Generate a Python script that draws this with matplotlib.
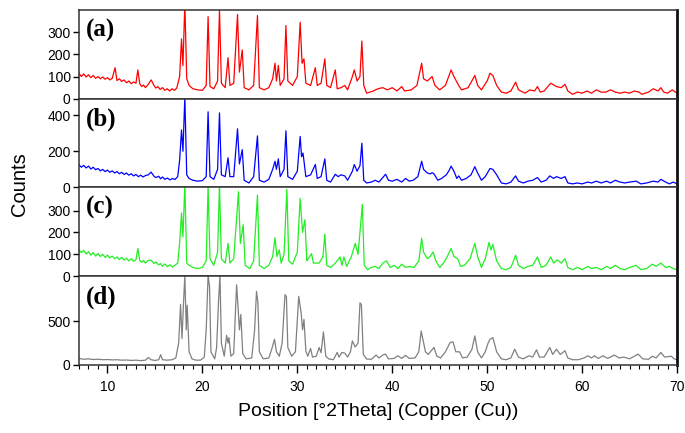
import matplotlib
matplotlib.use('Agg')
import matplotlib.pyplot as plt
from matplotlib.ticker import MultipleLocator

plt.rcParams['font.family'] = ['Liberation Sans', 'DejaVu Sans']

# (a) red trace
theta_a = [7.0, 7.25, 7.5, 7.75, 8.0, 8.25, 8.5, 8.75, 9.0, 9.25, 9.5, 9.75, 10.0, 10.25, 10.5, 10.8,
           11.0, 11.25, 11.5, 11.75, 12.0, 12.25, 12.5, 12.75, 13.0, 13.2, 13.4, 13.6, 13.8, 14.0, 14.3,
           14.6, 14.9, 15.1, 15.3, 15.55, 15.8, 16.05, 16.3, 16.55, 16.8, 17.05, 17.3, 17.6, 17.8, 17.95,
           18.15, 18.35, 18.6, 19.0, 19.5, 20.0, 20.4, 20.6, 20.8, 21.2, 21.6, 21.8, 22.0, 22.4, 22.7,
           22.9, 23.3, 23.7, 23.9, 24.2, 24.4, 24.9, 25.4, 25.8, 26.0, 26.5, 27.0, 27.4, 27.65, 27.8,
           28.0, 28.2, 28.6, 28.8, 29.0, 29.5, 30.0, 30.3, 30.5, 30.7, 30.9, 31.4, 31.9, 32.1, 32.5,
           32.9, 33.1, 33.5, 34.0, 34.2, 34.6, 35.0, 35.3, 35.8, 36.0, 36.3, 36.6, 36.8, 37.0, 37.3,
           38.0, 38.5, 39.0, 39.5, 40.0, 40.5, 41.0, 41.3, 42.0, 42.6, 43.1, 43.3, 43.7, 44.2, 44.5,
           45.0, 45.6, 46.2, 46.5, 47.0, 47.3, 48.0, 48.7, 49.0, 49.4, 50.0, 50.3, 50.6, 51.0, 51.5,
           52.0, 52.5, 53.0, 53.3, 54.0, 54.5, 55.0, 55.3, 55.6, 56.0, 56.7, 57.3, 57.8, 58.2, 58.5,
           59.0, 59.5, 60.0, 60.5, 61.0, 61.5, 62.0, 62.5, 63.0, 63.5, 64.0, 64.5, 65.0, 65.5, 66.0,
           66.3, 67.0, 67.5, 68.0, 68.3, 68.6, 69.0, 69.5, 70.0]
counts_a = [115, 100, 112, 98, 108, 95, 105, 92, 100, 90, 98, 88, 95, 85, 92, 140,
            82, 90, 78, 85, 72, 80, 68, 76, 70, 130, 68, 55, 62, 50, 65,
            85, 60, 48, 55, 42, 50, 38, 45, 35, 45, 38, 48, 100, 270, 150,
            430, 90, 60, 45, 40, 38, 60, 370, 55, 45, 80, 400, 70, 50, 185,
            60, 70, 380, 120, 220, 50, 40, 60, 375, 50, 40, 50, 90, 160, 80,
            150, 60, 90, 330, 80, 60, 100, 345, 160, 180, 70, 60, 140, 60, 70,
            180, 60, 50, 130, 45, 50, 60, 40, 100, 130, 80, 100, 260, 60, 25,
            35, 45, 50, 40, 50, 35, 55, 35, 40, 60, 160, 90, 80, 100, 60,
            40, 60, 130, 100, 60, 40, 50, 105, 60, 40, 80, 115, 105, 60, 30,
            25, 35, 75, 40, 25, 40, 35, 55, 30, 35, 70, 55, 50, 65, 35,
            20, 30, 25, 35, 25, 40, 30, 30, 40, 30, 25, 30, 25, 35, 30,
            20, 30, 45, 35, 50, 30, 25, 40, 25]

# (b) blue trace
theta_b = [7.0, 7.25, 7.5, 7.75, 8.0, 8.25, 8.5, 8.75, 9.0, 9.25, 9.5, 9.75, 10.0, 10.25, 10.5, 10.75,
           11.0, 11.25, 11.5, 11.75, 12.0, 12.25, 12.5, 12.75, 13.0, 13.25, 13.5, 13.75, 14.0, 14.3, 14.6,
           14.9, 15.1, 15.4, 15.6, 15.8, 16.05, 16.3, 16.6, 16.85, 17.1, 17.4, 17.6, 17.8, 17.95, 18.15,
           18.35, 18.6, 19.0, 19.5, 20.0, 20.4, 20.6, 20.8, 21.2, 21.6, 21.8, 22.0, 22.4, 22.7, 22.9,
           23.3, 23.7, 23.9, 24.2, 24.4, 24.9, 25.4, 25.8, 26.0, 26.5, 27.0, 27.4, 27.65, 27.8, 28.0,
           28.2, 28.6, 28.8, 29.0, 29.5, 30.0, 30.3, 30.45, 30.6, 30.9, 31.4, 31.9, 32.1, 32.5, 32.9,
           33.1, 33.5, 34.0, 34.3, 34.6, 35.0, 35.3, 35.8, 36.0, 36.3, 36.6, 36.8, 37.0, 37.3, 37.8,
           38.2, 38.6, 39.0, 39.3, 39.6, 40.0, 40.5, 41.0, 41.4, 41.8, 42.2, 42.7, 43.1, 43.3, 43.7,
           44.0, 44.2, 44.4, 44.8, 45.2, 45.7, 46.0, 46.2, 46.5, 46.8, 47.0, 47.3, 47.8, 48.3, 48.7,
           49.0, 49.4, 49.8, 50.3, 50.6, 51.0, 51.5, 52.0, 52.5, 53.0, 53.3, 53.8, 54.3, 54.8, 55.3,
           55.7, 56.2, 56.6, 57.0, 57.3, 57.8, 58.2, 58.5, 59.0, 59.5, 60.0, 60.6, 61.0, 61.5, 62.0,
           62.6, 63.0, 63.5, 64.0, 64.5, 65.0, 65.7, 66.2, 66.8, 67.5, 68.0, 68.3, 68.8, 69.2, 69.6,
           70.0]
counts_b = [125, 112, 122, 108, 118, 102, 112, 98, 105, 92, 100, 88, 96, 84, 92, 80,
            88, 76, 84, 72, 80, 68, 76, 64, 72, 60, 68, 58, 66, 70, 85,
            62, 55, 62, 48, 58, 45, 52, 42, 50, 44, 60, 150, 318, 200, 500,
            70, 50, 40, 35, 38, 60, 418, 60, 45, 100, 412, 70, 60, 164, 60,
            60, 324, 130, 209, 40, 25, 60, 285, 40, 30, 45, 100, 145, 100, 158,
            60, 100, 313, 60, 45, 90, 282, 170, 190, 60, 70, 127, 50, 60, 158,
            40, 30, 73, 60, 70, 64, 40, 90, 127, 90, 120, 245, 40, 25, 30,
            40, 30, 55, 73, 40, 35, 45, 30, 50, 35, 40, 60, 145, 100, 80,
            75, 82, 75, 40, 50, 70, 95, 118, 90, 50, 64, 40, 50, 70, 115,
            80, 40, 60, 105, 100, 70, 25, 20, 30, 64, 35, 25, 35, 40, 55,
            30, 40, 64, 50, 60, 50, 60, 25, 20, 25, 20, 30, 25, 35, 25,
            35, 25, 40, 30, 25, 30, 35, 20, 25, 35, 30, 45, 30, 20, 30,
            20]

# (c) green trace
theta_c = [7.0, 7.25, 7.5, 7.75, 8.0, 8.25, 8.5, 8.75, 9.0, 9.25, 9.5, 9.75, 10.0, 10.25, 10.5, 10.75,
           11.0, 11.25, 11.5, 11.75, 12.0, 12.25, 12.5, 12.75, 13.0, 13.2, 13.4, 13.6, 13.8, 14.0, 14.3,
           14.6, 14.9, 15.1, 15.4, 15.6, 15.8, 16.05, 16.3, 16.6, 16.85, 17.1, 17.4, 17.6, 17.8, 17.95,
           18.15, 18.35, 18.6, 19.0, 19.5, 20.0, 20.4, 20.6, 20.8, 21.2, 21.6, 21.8, 22.0, 22.4, 22.7,
           22.9, 23.3, 23.8, 24.0, 24.3, 24.5, 25.0, 25.4, 25.8, 26.0, 26.5, 27.0, 27.4, 27.65, 27.85,
           28.1, 28.3, 28.6, 28.9, 29.1, 29.5, 30.0, 30.3, 30.55, 30.8, 31.0, 31.5, 31.7, 32.3, 32.7,
           32.9, 33.1, 33.5, 34.0, 34.5, 34.7, 34.9, 35.2, 35.7, 36.1, 36.4, 36.6, 36.85, 37.05, 37.4,
           37.8, 38.2, 38.6, 39.0, 39.4, 39.8, 40.2, 40.6, 41.0, 41.4, 41.8, 42.3, 42.8, 43.1, 43.3,
           43.7, 44.0, 44.3, 44.6, 45.0, 45.4, 45.8, 46.2, 46.5, 46.9, 47.2, 47.6, 48.2, 48.7, 49.0,
           49.4, 49.8, 50.2, 50.4, 50.6, 51.0, 51.5, 52.0, 52.5, 53.0, 53.3, 53.8, 54.3, 54.8, 55.3,
           55.7, 56.2, 56.7, 57.0, 57.4, 57.8, 58.2, 58.5, 59.0, 59.5, 60.0, 60.6, 61.0, 61.5, 62.0,
           62.6, 63.0, 63.5, 64.0, 64.5, 65.0, 65.7, 66.2, 66.8, 67.4, 67.8, 68.3, 68.8, 69.2, 69.6,
           70.0]
counts_c = [120, 108, 118, 102, 112, 96, 108, 92, 104, 90, 100, 86, 96, 84, 92, 80,
            88, 76, 86, 74, 82, 70, 80, 68, 75, 127, 72, 64, 72, 60, 72,
            73, 58, 65, 52, 58, 46, 56, 44, 52, 42, 50, 60, 150, 289, 180,
            420, 60, 50, 40, 35, 40, 70, 410, 80, 50, 110, 420, 80, 60, 150,
            60, 80, 386, 150, 235, 50, 35, 70, 371, 50, 35, 50, 90, 176, 90,
            120, 60, 100, 397, 70, 55, 110, 355, 200, 258, 70, 103, 60, 60, 90,
            192, 50, 40, 60, 88, 50, 88, 45, 90, 150, 100, 200, 328, 50, 30,
            40, 45, 35, 60, 70, 40, 50, 35, 55, 40, 45, 40, 70, 173, 110,
            80, 90, 111, 70, 40, 60, 90, 127, 90, 80, 45, 50, 80, 150, 90,
            40, 80, 155, 120, 145, 70, 35, 30, 40, 96, 50, 35, 45, 50, 88,
            40, 50, 88, 60, 75, 60, 80, 40, 30, 40, 30, 45, 35, 40, 30,
            45, 35, 50, 35, 30, 40, 50, 30, 35, 55, 45, 60, 40, 45, 35,
            30]

# (d) gray trace
theta_d = [7.0, 7.5, 8.0, 8.5, 9.0, 9.5, 10.0, 10.5, 11.0, 11.5, 12.0, 12.5, 13.0, 13.5, 14.0, 14.3,
           14.6, 15.0, 15.4, 15.6, 15.8, 16.3, 16.8, 17.2, 17.5, 17.7, 17.85, 18.0, 18.15, 18.3, 18.4,
           18.6, 18.9, 19.3, 19.8, 20.2, 20.4, 20.6, 20.75, 20.9, 21.3, 21.5, 21.7, 21.85, 22.0, 22.3,
           22.55, 22.7, 22.8, 23.0, 23.3, 23.5, 23.6, 23.75, 23.9, 24.05, 24.25, 24.6, 25.2, 25.5, 25.7,
           25.85, 26.0, 26.4, 27.0, 27.3, 27.6, 27.8, 28.1, 28.4, 28.7, 28.85, 29.0, 29.4, 29.8, 30.15,
           30.4, 30.55, 30.7, 30.9, 31.1, 31.4, 31.6, 32.0, 32.3, 32.5, 32.75, 33.0, 33.3, 33.8, 34.2,
           34.4, 34.7, 35.0, 35.3, 35.6, 35.8, 36.1, 36.4, 36.6, 36.75, 36.95, 37.3, 37.8, 38.3, 38.6,
           39.0, 39.3, 39.6, 40.2, 40.6, 41.0, 41.4, 41.8, 42.4, 42.8, 43.05, 43.25, 43.5, 43.8, 44.1,
           44.4, 44.7, 45.1, 45.6, 46.1, 46.4, 46.7, 47.1, 47.4, 47.9, 48.4, 48.7, 49.0, 49.4, 49.8,
           50.1, 50.3, 50.6, 51.0, 51.5, 52.0, 52.5, 52.9, 53.3, 53.8, 54.4, 54.8, 55.2, 55.5, 56.0,
           56.6, 56.9, 57.3, 57.7, 58.2, 58.5, 59.0, 59.6, 60.2, 60.6, 61.0, 61.3, 61.7, 62.2, 62.7,
           63.4, 63.9, 64.4, 65.0, 65.9, 66.4, 67.0, 67.4, 67.8, 68.3, 68.7, 69.4, 69.7, 70.0]
counts_d = [75, 65, 70, 62, 66, 60, 62, 58, 60, 55, 57, 52, 55, 50, 55, 86,
            60, 52, 60, 117, 60, 55, 60, 80, 250, 690, 300, 680, 1020, 400, 680,
            150, 70, 55, 55, 90, 400, 1020, 895, 150, 70, 200, 725, 1020, 250, 100,
            338, 250, 312, 100, 130, 660, 913, 669, 400, 575, 130, 70, 80, 400, 838,
            707, 150, 70, 80, 180, 293, 150, 100, 250, 800, 780, 200, 100, 150, 782,
            594, 400, 519, 160, 100, 188, 90, 100, 199, 140, 376, 100, 70, 60, 143,
            90, 143, 135, 90, 150, 274, 205, 250, 707, 688, 120, 68, 65, 113, 80,
            113, 124, 70, 75, 105, 75, 110, 75, 80, 150, 387, 280, 150, 120, 162,
            200, 100, 80, 150, 256, 263, 150, 150, 80, 90, 180, 331, 150, 80, 150,
            250, 293, 312, 150, 70, 60, 80, 180, 90, 70, 105, 90, 173, 90, 90,
            200, 120, 180, 120, 162, 80, 60, 60, 80, 105, 80, 105, 75, 105, 75,
            113, 80, 90, 70, 124, 70, 65, 100, 80, 143, 90, 100, 70, 60]

panel_names = ['(a)', '(b)', '(c)', '(d)']
panel_colors = ['#ff0000', '#0000ff', '#22ee22', '#808080']
panel_ylims = [400, 490, 405, 1010]
panel_yticks = [[0, 100, 200, 300], [0, 200, 400], [0, 100, 200, 300], [0, 500]]
traces = [(theta_a, counts_a), (theta_b, counts_b), (theta_c, counts_c), (theta_d, counts_d)]

fig = plt.figure(figsize=(6.85, 4.33), dpi=100)
left, right = 79 / 685, 677 / 685
top, bottom = 1 - 10 / 433, 1 - 365 / 433
h = (top - bottom) / 4

axes = []
for i in range(4):
    ax = fig.add_axes([left, top - (i + 1) * h, right - left, h])
    x, y = traces[i]
    ax.plot(x, y, color=panel_colors[i], lw=0.9)
    ax.set_xlim(7, 70)
    ax.set_ylim(0, panel_ylims[i])
    ax.set_yticks(panel_yticks[i])
    ax.tick_params(axis='y', direction='out', length=4, width=1, labelsize=10, pad=2)
    for side in ['left', 'top', 'bottom']:
        ax.spines[side].set_color('#333333')
        ax.spines[side].set_linewidth(1.1)
    ax.spines['right'].set_color('#111111')
    ax.spines['right'].set_linewidth(2)
    ax.text(0.012, 0.9, panel_names[i], transform=ax.transAxes, ha='left', va='top',
            fontsize=18, fontweight='bold', family=['Liberation Serif', 'DejaVu Serif'])
    if i < 3:
        ax.tick_params(axis='x', which='both', bottom=False, labelbottom=False)
    axes.append(ax)

ax = axes[-1]
ax.xaxis.set_major_locator(MultipleLocator(10))
ax.xaxis.set_minor_locator(MultipleLocator(1))
ax.tick_params(axis='x', which='major', direction='out', length=6, width=1, labelsize=10, pad=5)
ax.tick_params(axis='x', which='minor', direction='out', length=3, width=0.8)
ax.set_xlabel('Position [°2Theta] (Copper (Cu))', fontsize=14, labelpad=6)

fig.text(20 / 685, 1 - 184 / 433, 'Counts', rotation=90, ha='center', va='center', fontsize=14.5)

fig.savefig('out.png', dpi=100)
